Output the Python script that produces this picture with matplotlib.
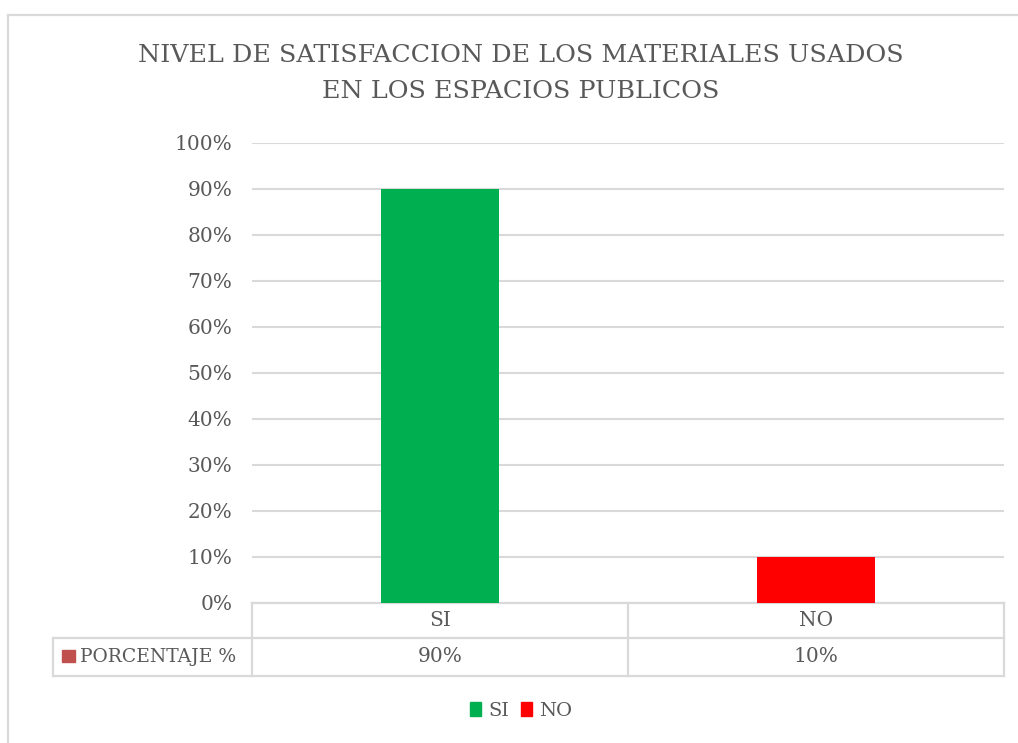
import matplotlib
matplotlib.use("Agg")
import matplotlib.pyplot as plt
from matplotlib.patches import Rectangle, Patch
from matplotlib.lines import Line2D
import matplotlib.transforms as mtrans

# ---- data ----
categories = ["SI", "NO"]
values = [0.90, 0.10]
value_labels = ["90%", "10%"]
series_name = "PORCENTAJE %"
bar_colors = ["#00B050", "#FF0000"]
series_color = "#C0504D"
title_lines = ["NIVEL DE SATISFACCION DE LOS MATERIALES USADOS",
               "EN LOS ESPACIOS PUBLICOS"]
yticks = [i / 10 for i in range(11)]
ytick_labels = [f"{i*10}%" for i in range(11)]

W, H = 1018, 743
TXT = "#595959"
GRID = "#D9D9D9"
FONT = "DejaVu Serif"

plt.rcParams["font.family"] = [FONT, "DejaVu Sans"]

fig = plt.figure(figsize=(W / 100, H / 100), dpi=100)

def fx(x):
    return x / W

def fy(y):
    return 1 - y / H

# plot area in pixels
L, R, T, B = 252, 1004, 143, 603
ax = fig.add_axes([fx(L), fy(B), (R - L) / W, (B - T) / H])

x = list(range(len(categories)))
ax.bar(x, values, width=0.315, color=bar_colors, zorder=3)
ax.set_xlim(-0.5, len(categories) - 0.5)
ax.set_ylim(0, 1)
ax.set_yticks(yticks)
ax.set_yticklabels(ytick_labels, fontsize=14.5, color=TXT)
ax.set_xticks([])
ax.tick_params(axis="y", length=0, pad=14)
for s in ax.spines.values():
    s.set_visible(False)
ax.grid(axis="y", color=GRID, linewidth=1.5, zorder=0)
ax.set_axisbelow(True)

# ---- data table ----
ph = B - T
r1 = -(638 - B) / ph
r2 = -(676 - B) / ph
left_ax = (53 - L) / (R - L)
blend = mtrans.blended_transform_factory(ax.transData, ax.transAxes)
lk = dict(color=GRID, linewidth=1.6, clip_on=False, zorder=1)
# horizontal lines
ax.add_line(Line2D([0, 1], [0, 0], transform=ax.transAxes, **lk))
ax.add_line(Line2D([left_ax, 1], [r1, r1], transform=ax.transAxes, **lk))
ax.add_line(Line2D([left_ax, 1], [r2, r2], transform=ax.transAxes, **lk))
# vertical lines
for i in range(len(categories) + 1):
    ax.add_line(Line2D([i - 0.5, i - 0.5], [0, r2], transform=blend, **lk))
ax.add_line(Line2D([left_ax, left_ax], [r1, r2], transform=ax.transAxes, **lk))
# cell texts
for i, (c, v) in enumerate(zip(categories, value_labels)):
    ax.text(i, r1 / 2, c, transform=blend, ha="center", va="center",
            fontsize=14.5, color=TXT)
    ax.text(i, (r1 + r2) / 2, v, transform=blend, ha="center", va="center",
            fontsize=14.5, color=TXT)
# row label with key
fig.patches.append(Rectangle((fx(62), fy(662)), 13 / W, 12 / H,
                             transform=fig.transFigure, color=series_color))
fig.text(fx(80), fy(657), series_name, ha="left", va="center",
         fontsize=13.5, color=TXT)

# ---- title ----
for yy, line in zip([55, 92], title_lines):
    fig.text(fx(521), fy(yy), line, ha="center", va="center", fontsize=18.3,
             color=TXT)

# ---- legend ----
handles = [Patch(color=c, label=l) for c, l in zip(bar_colors, categories)]
leg = fig.legend(handles=handles, loc="center", bbox_to_anchor=(fx(521), fy(711)),
                 ncol=2, frameon=False, fontsize=14, handlelength=0.6,
                 handleheight=0.75, handletextpad=0.35, columnspacing=0.6,
                 labelcolor=TXT)

# ---- outer chart border ----
bk = dict(color=GRID, linewidth=1.6, transform=fig.transFigure)
fig.add_artist(Line2D([fx(8), 1.01], [fy(15), fy(15)], **bk))
fig.add_artist(Line2D([fx(8), fx(8)], [fy(15), -0.01], **bk))

fig.savefig("out.png", dpi=100, facecolor="white")
